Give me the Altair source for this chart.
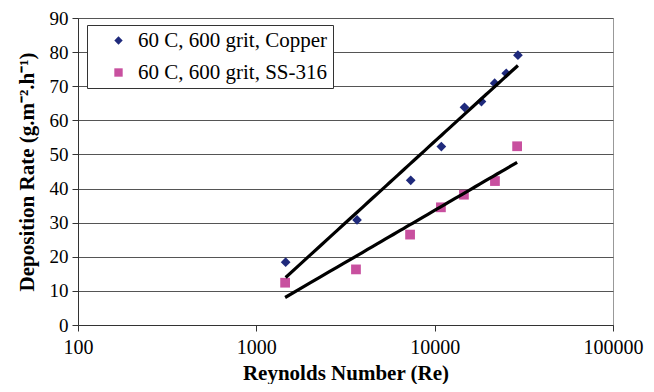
import altair as alt
import pandas as pd

series_names = ["60 C, 600 grit, Copper", "60 C, 600 grit, SS-316"]
series_colors = ["#1F2A7C", "#C8509F"]
series_shapes = ["diamond", "square"]

re_copper = [1460, 3670, 7340, 10900, 14700, 18300, 21700, 25200, 29300]
rate_copper = [18.4, 30.8, 42.4, 52.3, 63.8, 65.5, 70.9, 73.8, 79.1]

re_ss = [1450, 3620, 7280, 10840, 14590, 21780, 29000]
rate_ss = [12.4, 16.3, 26.5, 34.5, 38.2, 42.2, 52.4]

x_ticks = [100, 1000, 10000, 100000]
y_ticks = [0, 10, 20, 30, 40, 50, 60, 70, 80, 90]

rows = []
for r, v in zip(re_copper, rate_copper):
    rows.append({"Re": r, "Rate": v, "series": series_names[0]})
for r, v in zip(re_ss, rate_ss):
    rows.append({"Re": r, "Rate": v, "series": series_names[1]})
df = pd.DataFrame(rows)

FONT = "Liberation Serif"

x_axis = alt.Axis(
    values=x_ticks, format="d", title="Reynolds Number (Re)", grid=False,
    tickSize=6, labelPadding=6, titlePadding=5, labelFlush=False,
    labelOverlap=False, labelFontSize=20,
)
y_axis = alt.Axis(
    values=y_ticks, title="Deposition Rate (g.m\u207b\u00b2.h\u207b\u00b9)", grid=True,
    tickSize=6, labelPadding=4, titlePadding=12, labelFlush=False,
    labelOverlap=False, labelFontSize=19,
)
x_scale = alt.Scale(type="log", domain=[100, 100000])
y_scale = alt.Scale(domain=[0, 90])

base = alt.Chart(df)

points = base.mark_point(filled=True, opacity=1, size=95).encode(
    x=alt.X("Re:Q", scale=x_scale, axis=x_axis),
    y=alt.Y("Rate:Q", scale=y_scale, axis=y_axis),
    color=alt.Color(
        "series:N",
        scale=alt.Scale(domain=series_names, range=series_colors),
        legend=alt.Legend(
            title=None, orient="none", legendX=9, legendY=7,
            strokeColor="#333333", fillColor="white", padding=5,
            labelFontSize=21, labelFont=FONT, symbolSize=70, rowPadding=10,
            symbolOffset=16, labelOffset=9, labelLimit=400,
        ),
    ),
    shape=alt.Shape("series:N", scale=alt.Scale(domain=series_names, range=series_shapes)),
)

trend = base.transform_regression(
    "Re", "Rate", method="log", groupby=["series"]
).mark_line(color="black", strokeWidth=3.2).encode(
    x=alt.X("Re:Q", scale=x_scale, axis=x_axis),
    y=alt.Y("Rate:Q", scale=y_scale, axis=y_axis),
    detail="series:N",
)

chart = (
    alt.layer(points, trend)
    .properties(
        width=535, height=307,
        autosize=alt.AutoSizeParams(type="none"),
        padding={"left": 70, "top": 10, "right": 33, "bottom": 59},
    )
    .configure(font=FONT)
    .configure_view(stroke="#999999", strokeWidth=1)
    .configure_axis(
        labelFont=FONT, titleFont=FONT, titleFontSize=21,
        titleFontWeight="bold", labelColor="black", titleColor="black",
        domainColor="#333333", tickColor="#333333", gridColor="#555555",
        gridWidth=1, domainWidth=1,
    )
)

chart.save("out.html", embed_options={"renderer": "svg", "actions": False})
